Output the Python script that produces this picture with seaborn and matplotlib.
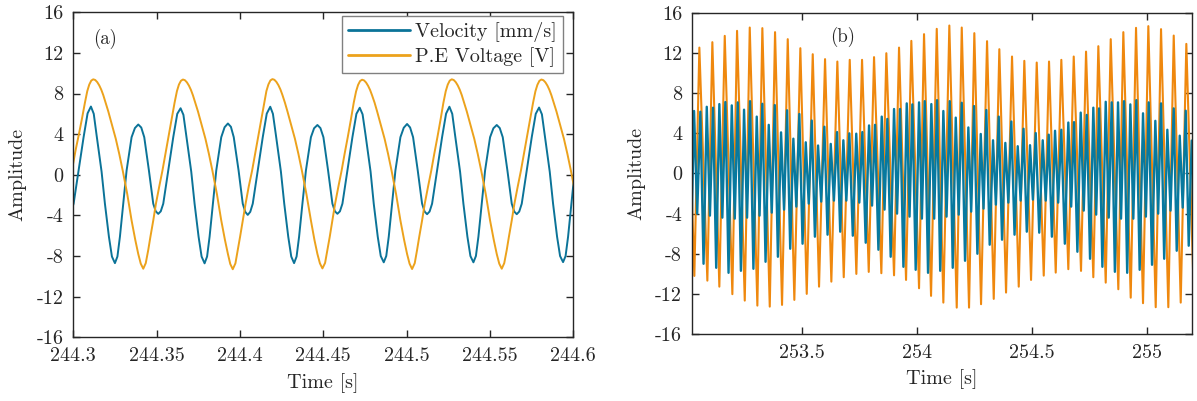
import matplotlib
matplotlib.use("Agg")
import matplotlib.pyplot as plt
import seaborn as sns

# ---- panel (a): short window, velocity and P.E voltage ----
a_volt_t = [244.2925, 244.2942, 244.2958, 244.2978, 244.2997, 244.3015, 244.3034, 244.3052, 244.3070,
            244.3084, 244.3096, 244.3108,
            244.3120, 244.3132, 244.3144, 244.3156, 244.3168, 244.3180, 244.3194, 244.3210, 244.3225,
            244.3240, 244.3255, 244.3276, 244.3297, 244.3324, 244.3350, 244.3372, 244.3390, 244.3405,
            244.3420, 244.3435, 244.3450, 244.3463, 244.3480, 244.3496, 244.3516, 244.3535, 244.3553,
            244.3571, 244.3589, 244.3608, 244.3622, 244.3634, 244.3646,
            244.3658, 244.3670, 244.3682, 244.3694, 244.3706, 244.3718, 244.3732, 244.3748, 244.3763,
            244.3778, 244.3793, 244.3814, 244.3835, 244.3862, 244.3888, 244.3910, 244.3928, 244.3942,
            244.3957, 244.3973, 244.3987, 244.4001, 244.4017, 244.4034, 244.4053, 244.4073, 244.4091,
            244.4109, 244.4127, 244.4146, 244.4159, 244.4171, 244.4183,
            244.4195, 244.4207, 244.4219, 244.4231, 244.4243, 244.4255, 244.4270, 244.4285, 244.4300,
            244.4315, 244.4330, 244.4351, 244.4372, 244.4399, 244.4426, 244.4447, 244.4465, 244.4480,
            244.4495, 244.4511, 244.4525, 244.4539, 244.4555, 244.4571, 244.4591, 244.4610, 244.4628,
            244.4647, 244.4665, 244.4683, 244.4697, 244.4709, 244.4721,
            244.4733, 244.4745, 244.4757, 244.4769, 244.4781, 244.4793, 244.4808, 244.4823, 244.4838,
            244.4853, 244.4868, 244.4889, 244.4910, 244.4937, 244.4963, 244.4985, 244.5003, 244.5018,
            244.5033, 244.5049, 244.5063, 244.5076, 244.5093, 244.5109, 244.5129, 244.5148, 244.5166,
            244.5185, 244.5203, 244.5221, 244.5235, 244.5247, 244.5259,
            244.5271, 244.5283, 244.5295, 244.5307, 244.5319, 244.5331, 244.5345, 244.5361, 244.5376,
            244.5391, 244.5406, 244.5427, 244.5448, 244.5475, 244.5501, 244.5523, 244.5541, 244.5556,
            244.5571, 244.5586, 244.5601, 244.5614, 244.5631, 244.5647, 244.5667, 244.5686, 244.5704,
            244.5722, 244.5740, 244.5759, 244.5773, 244.5785, 244.5797,
            244.5809, 244.5821, 244.5833, 244.5845, 244.5857, 244.5869, 244.5883, 244.5899, 244.5914,
            244.5929, 244.5944, 244.5965, 244.5986, 244.6013, 244.6039]
a_volt = [-6.10, -4.50, -2.85, -0.90, 0.90, 2.50, 4.00, 5.50, 7.10,
          8.23, 8.88, 9.27,
          9.40, 9.33, 9.12, 8.80, 8.38, 7.85, 7.10, 6.25, 5.35,
          4.45, 3.55, 2.05, 0.40, -1.90, -4.50, -6.40, -7.80, -8.75,
          -9.25, -8.70, -7.40, -6.10, -4.50, -2.85, -1.15, 0.40, 2.05,
          3.70, 5.35, 7.10, 8.23, 8.88, 9.25,
          9.38, 9.31, 9.10, 8.78, 8.36, 7.83, 7.10, 6.25, 5.35,
          4.45, 3.55, 2.05, 0.40, -1.90, -4.50, -6.40, -7.80, -8.78,
          -9.30, -8.72, -7.40, -6.10, -4.50, -2.85, -1.15, 0.40, 2.05,
          3.70, 5.35, 7.10, 8.25, 8.90, 9.29,
          9.42, 9.35, 9.14, 8.82, 8.40, 7.86, 7.10, 6.25, 5.35,
          4.45, 3.55, 2.05, 0.40, -1.90, -4.50, -6.40, -7.80, -8.72,
          -9.22, -8.68, -7.40, -6.10, -4.50, -2.85, -1.15, 0.40, 2.05,
          3.70, 5.35, 7.10, 8.21, 8.85, 9.23,
          9.36, 9.29, 9.08, 8.76, 8.35, 7.82, 7.10, 6.25, 5.35,
          4.45, 3.55, 2.05, 0.40, -1.90, -4.50, -6.40, -7.80, -8.76,
          -9.28, -8.70, -7.40, -6.10, -4.50, -2.85, -1.15, 0.40, 2.05,
          3.70, 5.35, 7.10, 8.23, 8.88, 9.27,
          9.40, 9.33, 9.12, 8.80, 8.38, 7.85, 7.10, 6.25, 5.35,
          4.45, 3.55, 2.05, 0.40, -1.90, -4.50, -6.40, -7.80, -8.75,
          -9.25, -8.70, -7.40, -6.10, -4.50, -2.85, -1.15, 0.40, 2.05,
          3.70, 5.35, 7.10, 8.22, 8.86, 9.25,
          9.38, 9.31, 9.10, 8.78, 8.36, 7.83, 7.10, 6.25, 5.35,
          4.45, 3.55, 2.05, 0.40, -1.90, -4.50]

a_vel_t = [244.2972, 244.2987, 244.3002, 244.3032, 244.3062, 244.3086,
           244.3106, 244.3123, 244.3140, 244.3170, 244.3190, 244.3214, 244.3232, 244.3250, 244.3265,
           244.3280, 244.3300, 244.3320, 244.3350, 244.3370, 244.3390, 244.3408, 244.3426, 244.3454,
           244.3480, 244.3495, 244.3510, 244.3525, 244.3540, 244.3570, 244.3600, 244.3624,
           244.3644, 244.3661, 244.3678, 244.3708, 244.3728, 244.3752, 244.3770, 244.3788, 244.3803,
           244.3818, 244.3838, 244.3858, 244.3888, 244.3908, 244.3928, 244.3946, 244.3963, 244.3992,
           244.4017, 244.4032, 244.4047, 244.4062, 244.4077, 244.4107, 244.4137, 244.4161,
           244.4182, 244.4198, 244.4216, 244.4246, 244.4266, 244.4290, 244.4308, 244.4325, 244.4340,
           244.4355, 244.4375, 244.4396, 244.4426, 244.4445, 244.4465, 244.4483, 244.4501, 244.4529,
           244.4555, 244.4570, 244.4585, 244.4600, 244.4615, 244.4645, 244.4675, 244.4699,
           244.4719, 244.4736, 244.4754, 244.4784, 244.4803, 244.4827, 244.4845, 244.4863, 244.4878,
           244.4893, 244.4913, 244.4933, 244.4963, 244.4983, 244.5003, 244.5021, 244.5039, 244.5067,
           244.5093, 244.5108, 244.5123, 244.5138, 244.5153, 244.5183, 244.5213, 244.5237,
           244.5257, 244.5274, 244.5291, 244.5321, 244.5341, 244.5365, 244.5383, 244.5401, 244.5416,
           244.5431, 244.5451, 244.5471, 244.5501, 244.5521, 244.5541, 244.5559, 244.5577, 244.5605,
           244.5631, 244.5646, 244.5661, 244.5676, 244.5691, 244.5721, 244.5751, 244.5775,
           244.5795, 244.5812, 244.5829, 244.5859, 244.5879, 244.5903, 244.5921, 244.5939, 244.5954,
           244.5969, 244.5989, 244.6009, 244.6039]
a_vel = [-3.85, -3.60, -2.85, 0.42, 3.70, 6.05,
         6.72, 6.00, 3.90, 0.30, -2.85, -6.10, -8.05, -8.70, -8.05,
         -6.10, -2.85, 0.42, 3.70, 4.60, 4.95, 4.65, 3.70, 0.42,
         -2.85, -3.60, -3.85, -3.60, -2.85, 0.42, 3.70, 6.00,
         6.55, 5.90, 3.90, 0.30, -2.85, -6.10, -8.05, -8.72, -8.05,
         -6.10, -2.85, 0.42, 3.70, 4.68, 5.05, 4.72, 3.70, 0.42,
         -2.85, -3.65, -3.95, -3.65, -2.85, 0.42, 3.70, 6.02,
         6.70, 6.00, 3.90, 0.30, -2.85, -6.10, -8.05, -8.70, -8.05,
         -6.10, -2.85, 0.42, 3.70, 4.58, 4.90, 4.60, 3.70, 0.42,
         -2.85, -3.60, -3.84, -3.60, -2.85, 0.42, 3.70, 6.00,
         6.60, 5.95, 3.90, 0.30, -2.85, -6.10, -8.00, -8.62, -8.00,
         -6.10, -2.85, 0.42, 3.70, 4.63, 5.00, 4.66, 3.70, 0.42,
         -2.85, -3.62, -3.88, -3.62, -2.85, 0.42, 3.70, 6.02,
         6.70, 6.00, 3.90, 0.30, -2.85, -6.10, -8.00, -8.62, -8.00,
         -6.10, -2.85, 0.42, 3.70, 4.58, 4.90, 4.60, 3.70, 0.42,
         -2.85, -3.62, -3.88, -3.62, -2.85, 0.42, 3.70, 6.00,
         6.62, 5.95, 3.90, 0.30, -2.85, -6.10, -8.00, -8.60, -8.00,
         -6.10, -2.85, 0.42, 3.70]

# ---- panel (b): long window, peaks and troughs ----
b_volt_t = [253.0030,
            253.0330, 253.0548, 253.0896, 253.1113, 253.1417, 253.1652, 253.1983, 253.2187,
            253.2522, 253.2739, 253.3070, 253.3287, 253.3609, 253.3839, 253.4143, 253.4391,
            253.4678, 253.4939, 253.5217, 253.5478, 253.5752, 253.6013, 253.6287, 253.6548,
            253.6826, 253.7087, 253.7374, 253.7622, 253.7913, 253.8143, 253.8461, 253.8678,
            253.9013, 253.9230, 253.9535, 253.9765, 254.0100, 254.0317, 254.0622, 254.0870,
            254.1157, 254.1417, 254.1739, 254.1957, 254.2274, 254.2504, 254.2796, 254.3057,
            254.3348, 254.3591, 254.3883, 254.4143, 254.4435, 254.4678, 254.4970, 254.5217,
            254.5522, 254.5752, 254.6043, 254.6287, 254.6591, 254.6826, 254.7143, 254.7361,
            254.7678, 254.7896, 254.8217, 254.8435, 254.8765, 254.8983, 254.9304, 254.9535,
            254.9839, 255.0070, 255.0391, 255.0622, 255.0939, 255.1174, 255.1478, 255.1722,
            255.2050]
b_volt = [12.00,
          -10.21, 12.55, -10.68, 13.09, -11.28, 13.72, -12.03, 14.22,
          -12.67, 14.55, -13.17, 14.49, -13.27, 14.09, -13.10, 13.39,
          -12.60, 12.49, -12.00, 11.89, -11.28, 11.40, -10.78, 11.16,
          -10.34, 11.33, -10.01, 11.33, -9.81, 11.60, -9.94, 11.99,
          -10.15, 12.55, -10.61, 13.22, -11.44, 13.89, -12.20, 14.42,
          -12.87, 14.75, -13.37, 14.55, -13.37, 13.99, -13.03, 13.19,
          -12.50, 12.39, -11.87, 11.66, -11.28, 11.23, -10.61, 11.06,
          -10.18, 11.16, -9.88, 11.33, -9.54, 11.66, -9.71, 12.15,
          -10.34, 12.69, -10.88, 13.39, -11.54, 14.09, -12.38, 14.52,
          -12.93, 14.69, -13.33, 14.39, -13.33, 13.75, -12.87, 12.92,
          -12.40]

b_vel_t = [253.0043, 253.0178, 253.0317, 253.0454, 253.0591, 253.0730, 253.0870, 253.1007, 253.1143, 253.1280,
           253.1417, 253.1548, 253.1678, 253.1817, 253.1957, 253.2087, 253.2217, 253.2354, 253.2491, 253.2622,
           253.2752, 253.2898, 253.3043, 253.3165, 253.3287, 253.3426, 253.3565, 253.3696, 253.3826, 253.3963,
           253.4100, 253.4230, 253.4361, 253.4498, 253.4635, 253.4765, 253.4896, 253.5035, 253.5174, 253.5304,
           253.5435, 253.5572, 253.5709, 253.5846, 253.5983, 253.6122, 253.6261, 253.6398, 253.6535, 253.6672,
           253.6809, 253.6939, 253.7070, 253.7220, 253.7370, 253.7502, 253.7635, 253.7781, 253.7926, 253.8057,
           253.8187, 253.8333, 253.8478, 253.8600, 253.8722, 253.8867, 253.9013, 253.9144, 253.9274, 253.9420,
           253.9565, 253.9687, 253.9809, 253.9954, 254.0100, 254.0224, 254.0348, 254.0491, 254.0635, 254.0759,
           254.0883, 254.1020, 254.1157, 254.1296, 254.1435, 254.1565, 254.1696, 254.1826, 254.1957, 254.2100,
           254.2244, 254.2367, 254.2491, 254.2637, 254.2783, 254.2904, 254.3026, 254.3172, 254.3317, 254.3441,
           254.3565, 254.3709, 254.3852, 254.3983, 254.4113, 254.4252, 254.4391, 254.4517, 254.4644, 254.4785,
           254.4926, 254.5050, 254.5174, 254.5326, 254.5478, 254.5609, 254.5739, 254.5876, 254.6013, 254.6150,
           254.6287, 254.6439, 254.6591, 254.6715, 254.6839, 254.6985, 254.7130, 254.7261, 254.7391, 254.7535,
           254.7678, 254.7802, 254.7926, 254.8072, 254.8217, 254.8348, 254.8478, 254.8615, 254.8752, 254.8883,
           254.9013, 254.9150, 254.9287, 254.9417, 254.9548, 254.9693, 254.9839, 254.9963, 255.0087, 255.0230,
           255.0374, 255.0498, 255.0622, 255.0759, 255.0896, 255.1035, 255.1174, 255.1304, 255.1435, 255.1565,
           255.1696, 255.1826, 255.1957, 255.2087]
b_vel = [5.90, -8.80, 6.23, -4.00, 6.16, -9.00, 6.65, -4.20, 6.56, -9.40,
         6.92, -4.40, 7.12, -9.90, 6.79, -4.50, 7.09, -9.70, 6.36, -4.40,
         7.21, -9.50, 5.67, -4.20, 6.95, -8.80, 4.85, -3.90, 6.82, -8.30,
         4.10, -3.60, 6.30, -7.50, 3.47, -3.30, 5.93, -7.00, 3.11, -3.00,
         5.28, -6.30, 2.79, -2.80, 4.66, -6.10, 2.95, -2.70, 4.13, -5.80,
         3.31, -2.70, 4.00, -6.20, 3.97, -2.90, 4.13, -6.90, 4.79, -3.20,
         4.85, -7.60, 5.67, -3.60, 5.44, -8.30, 6.43, -4.00, 6.43, -9.30,
         6.99, -4.30, 6.89, -9.60, 7.09, -4.50, 7.21, -9.90, 6.92, -4.50,
         7.31, -9.70, 6.23, -4.30, 7.21, -9.40, 5.57, -4.10, 7.05, -8.70,
         4.59, -3.80, 6.72, -8.00, 3.94, -3.50, 6.33, -7.10, 3.31, -3.10,
         5.67, -6.60, 3.05, -2.90, 5.18, -6.10, 2.72, -2.70, 4.46, -5.80,
         2.82, -2.60, 4.03, -5.90, 3.31, -2.70, 3.87, -6.30, 4.26, -2.90,
         4.36, -7.00, 5.08, -3.30, 5.12, -7.80, 6.07, -3.70, 5.84, -8.50,
         6.56, -4.10, 6.49, -9.30, 7.15, -4.40, 7.09, -9.80, 7.09, -4.50,
         7.21, -9.90, 6.89, -4.50, 7.31, -9.60, 6.00, -4.30, 7.09, -9.10,
         5.25, -4.00, 6.99, -8.50, 4.36, -3.70, 6.49, -7.70, 3.77, -3.40,
         6.26, -7.20, 3.28, -3.10]

# ---- axes ----
a_xlim = (244.3, 244.6)
b_xlim = (253.0217, 255.1957)
a_xticks = [244.3, 244.35, 244.4, 244.45, 244.5, 244.55, 244.6]
a_xlabels = ["244.3", "244.35", "244.4", "244.45", "244.5", "244.55", "244.6"]
b_xticks = [253.5, 254.0, 254.5, 255.0]
b_xlabels = ["253.5", "254", "254.5", "255"]
y_ticks = [-16, -12, -8, -4, 0, 4, 8, 12, 16]
y_labels = ["-16", "-12", "-8", "-4", "0", "4", "8", "12", "16"]

sns.set_style("ticks")
plt.rcParams["font.family"] = ["cmr10", "DejaVu Sans"]
plt.rcParams["axes.unicode_minus"] = False
plt.rcParams["mathtext.fontset"] = "cm"

teal_a = "#0b7398"
orange_a = "#eca21c"
teal_b = "#07799f"
orange_b = "#ef880e"
ink = "#262626"
fs = 14.5

fig = plt.figure(figsize=(11.97, 4.01), dpi=100)
ax1 = fig.add_axes([0.0612, 0.1589, 0.4177, 0.8105])
ax2 = fig.add_axes([0.5779, 0.1671, 0.4177, 0.8005])

sns.lineplot(x=a_vel_t, y=a_vel, ax=ax1, color=teal_a, lw=1.4, sort=False,
             estimator=None, label="Velocity [mm/s]")
sns.lineplot(x=a_volt_t, y=a_volt, ax=ax1, color=orange_a, lw=1.4, sort=False,
             estimator=None, label="P.E Voltage [V]")

sns.lineplot(x=b_volt_t, y=b_volt, ax=ax2, color=orange_b, lw=1.5, sort=False,
             estimator=None, legend=False)
sns.lineplot(x=b_vel_t, y=b_vel, ax=ax2, color=teal_b, lw=1.7, sort=False,
             estimator=None, legend=False)

for ax, xt, xl, lim in ((ax1, a_xticks, a_xlabels, a_xlim),
                        (ax2, b_xticks, b_xlabels, b_xlim)):
    ax.set_xlim(*lim)
    ax.set_ylim(-16, 16)
    ax.set_xticks(xt)
    ax.set_xticklabels(xl)
    ax.set_yticks(y_ticks)
    ax.set_yticklabels(y_labels)
    ax.tick_params(direction="in", length=5, width=1.0, top=True, right=True,
                   labelsize=fs, pad=7, colors=ink)
    for s in ax.spines.values():
        s.set_visible(True)
        s.set_linewidth(1.0)
        s.set_color(ink)
    ax.set_xlabel("Time [s]", fontsize=fs, color=ink)
    ax.set_ylabel("Amplitude", fontsize=fs, color=ink)
    ax.xaxis.set_label_coords(0.5, -0.11)
    ax.yaxis.set_label_coords(-0.093, 0.5)

leg = ax1.legend(loc="upper right", bbox_to_anchor=(0.98, 0.9886), borderaxespad=0,
                 fontsize=fs, handlelength=3.1, handletextpad=0.25, borderpad=0.3,
                 labelspacing=0.25, fancybox=False, framealpha=1, edgecolor="#808080")
leg.get_frame().set_linewidth(1.0)
for h in leg.get_lines():
    h.set_linewidth(2.0)

ax1.text(0.039, 0.918, "(a)", transform=ax1.transAxes, fontsize=13.5,
         va="center", ha="left", color=ink)
ax2.text(0.277, 0.924, "(b)", transform=ax2.transAxes, fontsize=13.5,
         va="center", ha="left", color=ink)

fig.savefig("out.png", dpi=100)
